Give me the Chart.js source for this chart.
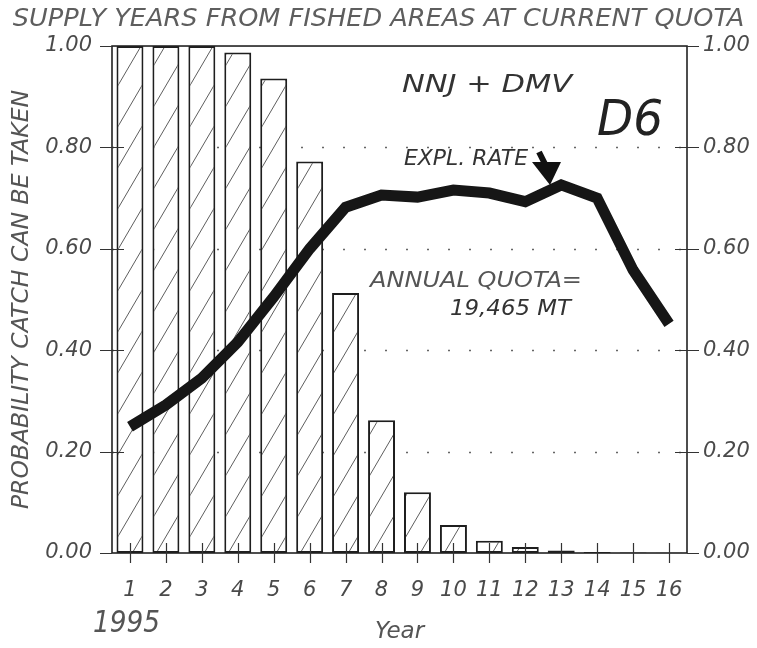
<!DOCTYPE html>
<html><head><meta charset="utf-8">
<script src="https://cdn.jsdelivr.net/npm/chart.js@4.4.0/dist/chart.umd.min.js"></script>
<style>html,body{margin:0;padding:0;background:#fff;}#wrap{width:757px;height:648px;}</style>
</head><body><div id="wrap"><canvas id="c" width="757" height="648"></canvas></div>
<script>
// ---- data ----
const years = ['1','2','3','4','5','6','7','8','9','10','11','12','13','14','15','16'];
const baseYearLabel = '1995';
const probCatch = [1.00,1.00,1.00,0.987,0.936,0.772,0.513,0.262,0.120,0.055,0.024,0.012,0.005,0.002,0.001,0.0005];
const explRate = [0.249,0.292,0.345,0.416,0.505,0.600,0.682,0.706,0.702,0.716,0.710,0.693,0.726,0.700,0.558,0.452];
const yTicks = [0,0.2,0.4,0.6,0.8,1.0];
const titleText = 'SUPPLY YEARS FROM FISHED AREAS AT CURRENT QUOTA';
const yTitle = 'PROBABILITY CATCH CAN BE TAKEN';
const xTitle = 'Year';
const areaLabel = 'NNJ + DMV';
const caseLabel = 'D6';
const rateLabel = 'EXPL. RATE';
const quotaLabel1 = 'ANNUAL QUOTA=';
const quotaLabel2 = '19,465 MT';

const FAM = "'DejaVu Sans', 'Liberation Sans', sans-serif";
const canvas = document.getElementById('c');
const ctx0 = canvas.getContext('2d');

function makeHatch(){
  const w=24,h=41;
  const c=document.createElement('canvas'); c.width=w; c.height=h;
  const g=c.getContext('2d');
  g.fillStyle='#fff'; g.fillRect(0,0,w,h);
  g.strokeStyle='#5e5e5e'; g.lineWidth=1;
  g.beginPath();
  for (const dx of [-w,0,w]) { g.moveTo(dx,h); g.lineTo(dx+w,0); }
  g.stroke();
  return ctx0.createPattern(c,'repeat');
}

function fitText(ctx, text, x, yBase, font, width, color){
  ctx.save();
  ctx.font=font; ctx.fillStyle=color; ctx.textBaseline='alphabetic'; ctx.textAlign='left';
  const m=ctx.measureText(text).width;
  ctx.translate(x,yBase); ctx.scale(width/m,1); ctx.fillText(text,0,0);
  ctx.restore();
}

const decor = {
  id:'decor',
  beforeDatasetsDraw(chart){
    const ctx=chart.ctx, a=chart.chartArea, ys=chart.scales.y;
    ctx.save();
    ctx.setLineDash([2,19]); ctx.strokeStyle='#666'; ctx.lineWidth=1.5;
    for (const v of yTicks){
      if (v<=0||v>=1) continue;
      const y=Math.round(ys.getPixelForValue(v))+0.5;
      ctx.beginPath(); ctx.moveTo(a.left,y); ctx.lineTo(a.right,y); ctx.stroke();
    }
    ctx.restore();
  },
  afterDatasetsDraw(chart){
    const ctx=chart.ctx, a=chart.chartArea, ys=chart.scales.y, xs=chart.scales.x;
    ctx.save();
    ctx.strokeStyle='#222'; ctx.lineWidth=1.6;
    ctx.strokeRect(a.left,a.top,a.right-a.left,a.bottom-a.top);
    ctx.lineWidth=1.2; ctx.strokeStyle='#333';
    ctx.beginPath();
    for (const v of yTicks){
      const y=Math.round(ys.getPixelForValue(v))+0.5;
      ctx.moveTo(a.left-12,y); ctx.lineTo(a.left+(v<1&&v>0?12:0),y);
      ctx.moveTo(a.right-(v<1&&v>0?12:0),y); ctx.lineTo(a.right+12,y);
    }
    for (let i=0;i<years.length;i++){
      const x=Math.round(xs.getPixelForValue(i))+0.5;
      ctx.moveTo(x,a.bottom-10); ctx.lineTo(x,a.bottom+10);
    }
    ctx.stroke();
    ctx.restore();
  },
  afterDraw(chart){
    const ctx=chart.ctx, xs=chart.scales.x;
    fitText(ctx, areaLabel, 402, 92, "italic 24px "+FAM, 170, '#333');
    fitText(ctx, caseLabel, 597, 135, "italic 49px "+FAM, 66, '#222');
    fitText(ctx, rateLabel, 404, 165, "italic 21px "+FAM, 124, '#333');
    fitText(ctx, quotaLabel1, 370, 287, "italic 21px "+FAM, 212, '#555');
    fitText(ctx, quotaLabel2, 450, 315, "italic 21px "+FAM, 121, '#333');
    const bx=xs.getPixelForValue(0);
    fitText(ctx, baseYearLabel, bx-37, 632, "italic 30px "+FAM, 67, '#555');
    // arrow
    ctx.save();
    ctx.fillStyle='#111'; ctx.strokeStyle='#111'; ctx.lineWidth=6;
    ctx.beginPath(); ctx.moveTo(539,152); ctx.lineTo(546,166); ctx.stroke();
    ctx.beginPath(); ctx.moveTo(532,162); ctx.lineTo(561,162); ctx.lineTo(550,185); ctx.closePath(); ctx.fill();
    ctx.restore();
  }
};

const hatch = makeHatch();
const tickFont = {family:FAM, style:'italic', size:21, weight:'normal'};

new Chart(ctx0, {
  type:'bar',
  data:{
    labels: years,
    datasets:[
      {type:'line', label:'Expl. rate', data: explRate, borderColor:'#161616', borderWidth:11,
       pointRadius:0, tension:0, fill:false, borderJoinStyle:'miter', borderCapStyle:'butt', order:0, yAxisID:'y'},
      {type:'bar', label:'Probability catch can be taken', data: probCatch, backgroundColor: hatch,
       borderColor:'#1e1e1e', borderWidth:2, borderSkipped:false, barPercentage:0.75, categoryPercentage:1.0, order:1, yAxisID:'y'}
    ]
  },
  options:{
    responsive:false, animation:false, devicePixelRatio:1,
    layout:{padding:0},
    plugins:{
      legend:{display:false}, tooltip:{enabled:false},
      title:{display:true, text:titleText, color:'#5e5e5e', font:{family:FAM, style:'italic', size:25.6, weight:'normal', lineHeight:1.2}, padding:{top:4,bottom:11.3}}
    },
    scales:{
      x:{
        type:'category', offset:true,
        grid:{display:false, drawTicks:false}, border:{display:false},
        ticks:{color:'#4a4a4a', font:tickFont, padding:25, maxRotation:0, autoSkip:false},
        title:{display:true, text:xTitle, color:'#555', font:{family:FAM, style:'italic', size:23, weight:'normal'}, padding:{top:0,bottom:2}},
        afterFit(s){ s.height=95; }
      },
      y:{
        position:'left', min:0, max:1,
        grid:{display:false, drawTicks:false}, border:{display:false},
        afterBuildTicks(s){ s.ticks=yTicks.map(v=>({value:v})); },
        ticks:{color:'#4a4a4a', font:tickFont, padding:20, callback:v=>Number(v).toFixed(2)},
        title:{display:true, text:yTitle, color:'#555', font:{family:FAM, style:'italic', size:23.5, weight:'normal'}, padding:{top:8,bottom:0}},
        afterFit(s){ s.width=112; }
      },
      y2:{
        position:'right', min:0, max:1,
        grid:{display:false, drawTicks:false}, border:{display:false},
        afterBuildTicks(s){ s.ticks=yTicks.map(v=>({value:v})); },
        ticks:{color:'#4a4a4a', font:tickFont, padding:16, callback:v=>Number(v).toFixed(2)},
        afterFit(s){ s.width=70; }
      }
    }
  },
  plugins:[decor]
});
</script></body></html>
